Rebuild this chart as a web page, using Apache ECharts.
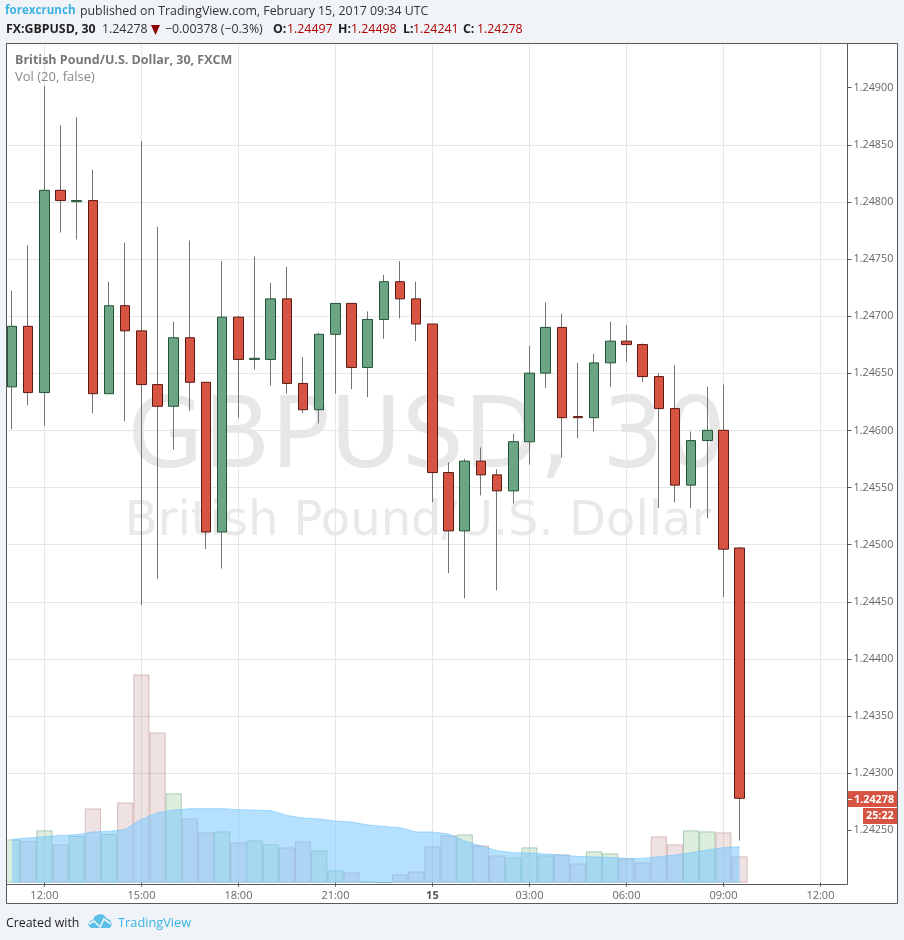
<!DOCTYPE html>
<html><head><meta charset="utf-8">
<style>html,body{margin:0;padding:0;background:#f0f3f7}#c{width:904px;height:940px}</style>
<script src="https://cdn.jsdelivr.net/npm/echarts@6/dist/echarts.min.js"></script>
</head><body><div id="c"></div>
<script>
const categories = ["11:00","11:30","12:00","12:30","13:00","13:30","14:00","14:30","15:00","15:30","16:00","16:30","17:00","17:30","18:00","18:30","19:00","19:30","20:00","20:30","21:00","21:30","22:00","22:30","23:00","23:30","15","00:30","01:00","01:30","02:00","02:30","03:00","03:30","04:00","04:30","05:00","05:30","06:00","06:30","07:00","07:30","08:00","08:30","09:00","09:30","10:00","10:30","11:00","11:30","12:00","12:30"];
const opens  = [1.24638,1.24691,1.24633,1.24810,1.24800,1.24801,1.24632,1.24709,1.24687,1.24640,1.24621,1.24681,1.24642,1.24511,1.24699,1.24662,1.24662,1.24715,1.24641,1.24618,1.24684,1.24711,1.24655,1.24697,1.24730,1.24715,1.24693,1.24563,1.24512,1.24573,1.24561,1.24547,1.24590,1.24650,1.24690,1.24612,1.24611,1.24659,1.24678,1.24675,1.24647,1.24619,1.24552,1.24591,1.24600,1.24497];
const closes = [1.24691,1.24633,1.24810,1.24801,1.24801,1.24632,1.24709,1.24687,1.24640,1.24621,1.24681,1.24642,1.24511,1.24699,1.24662,1.24663,1.24715,1.24641,1.24618,1.24684,1.24711,1.24655,1.24697,1.24730,1.24715,1.24693,1.24563,1.24512,1.24573,1.24561,1.24547,1.24590,1.24650,1.24690,1.24611,1.24611,1.24659,1.24678,1.24675,1.24647,1.24619,1.24552,1.24591,1.24600,1.24496,1.24278];
const lows   = [1.24601,1.24622,1.24604,1.24773,1.24767,1.24615,1.24632,1.24608,1.24447,1.24470,1.24583,1.24617,1.24496,1.24479,1.24611,1.24653,1.24639,1.24632,1.24615,1.24606,1.24632,1.24636,1.24629,1.24680,1.24698,1.24678,1.24537,1.24475,1.24453,1.24543,1.24460,1.24536,1.24570,1.24637,1.24576,1.24593,1.24599,1.24638,1.24660,1.24642,1.24532,1.24537,1.24532,1.24523,1.24454,1.24241];
const highs  = [1.24722,1.24762,1.24901,1.24867,1.24874,1.24828,1.24730,1.24764,1.24853,1.24778,1.24695,1.24766,1.24642,1.24748,1.24700,1.24752,1.24729,1.24743,1.24664,1.24685,1.24711,1.24711,1.24704,1.24736,1.24748,1.24730,1.24693,1.24572,1.24575,1.24585,1.24566,1.24597,1.24674,1.24712,1.24702,1.24659,1.24667,1.24695,1.24692,1.24676,1.24650,1.24657,1.24599,1.24638,1.24640,1.24498];
const volumes = [433,417,523,383,467,743,487,803,2083,1503,893,643,503,513,403,423,383,353,413,323,123,103,13,5,83,113,363,473,483,373,273,253,353,273,283,193,313,293,243,203,463,383,523,513,503,263];
const volumeMA = [433,447,460,473,480,507,513,533,633,700,727,740,740,740,730,727,720,673,647,637,617,607,577,563,550,507,507,487,417,367,320,300,297,287,277,263,258,253,243,243,260,277,300,327,350,360];
const priceTicks = [1.2425,1.243,1.2435,1.244,1.2445,1.245,1.2455,1.246,1.2465,1.247,1.2475,1.248,1.2485,1.249];
const axisMin = 1.2420, axisMax = 1.2495, priceStep = 0.0005;
const priceMin = 1.24203, priceMax = 1.24938;
const volMin = -13, volMax = 8387;
const labelledEvery = 6, labelOffset = 2;

const page = '#f0f3f7', frame = '#5a5a5a', grid = '#e6e6e6', axisText = '#666';
const upFill = '#6ba583', upEdge = '#225437', dnFill = '#d75442', dnEdge = '#5b1a13', wick = '#737375';
const sans = '"Open Sans", sans-serif';

const isMajor = i => (i - labelOffset) % labelledEvery === 0;
const ohlc = opens.map((o, i) => [o, closes[i], lows[i], highs[i]]);
const bodies = opens.map((o, i) => [o, closes[i], Math.min(o, closes[i]), Math.max(o, closes[i])]);
const volBars = volumes.map((v, i) => {
  const up = closes[i] >= opens[i];
  return { value: v, itemStyle: {
    color: up ? 'rgba(90,170,90,0.2)' : 'rgba(170,110,110,0.2)',
    borderColor: up ? 'rgba(50,130,80,0.35)' : 'rgba(150,70,70,0.3)', borderWidth: 1 } };
});

const txt = (x, y, s, fill, font, extra) => ({ type: 'text', z: 50, silent: true, x, y,
  style: Object.assign({ text: s, fill, font, textVerticalAlign: 'middle' }, extra || {}) });
const f12 = '12.35px ' + sans, b12 = 'bold 12.35px ' + sans;
const red = '#b00000';

const graphics = [
  { type: 'rect', z: -3, silent: true, shape: { x: 7, y: 44, width: 890, height: 859 }, style: { fill: '#fff' } },
  { type: 'text', z: -2, silent: true, x: 427, y: 442, style: { text: 'GBPUSD, 30', fill: '#e7e7e7', font: '98px "DejaVu Sans", sans-serif', textAlign: 'center', textVerticalAlign: 'middle' } },
  { type: 'text', z: -2, silent: true, x: 418, y: 523, style: { text: 'British Pound/U.S. Dollar', fill: '#e9e9e9', font: '48px "DejaVu Sans", sans-serif', textAlign: 'center', textVerticalAlign: 'middle' } },
  { type: 'rect', z: 40, silent: true, shape: { x: 0, y: 44, width: 6, height: 860 }, style: { fill: page } },
  { type: 'rect', z: 41, silent: true, shape: { x: 6.5, y: 43.5, width: 841, height: 841 }, style: { fill: 'none', stroke: frame, lineWidth: 1 } },
  { type: 'rect', z: 41, silent: true, shape: { x: 6.5, y: 43.5, width: 891, height: 860 }, style: { fill: 'none', stroke: frame, lineWidth: 1 } },
  txt(5, 11, 'forexcrunch', '#3bb3e4', 'bold 11.6px ' + sans),
  txt(80, 11, 'published on TradingView.com, February 15, 2017 09:34 UTC', '#333', f12),
  txt(6, 29, 'FX:GBPUSD, 30', '#222', b12),
  txt(102, 29, '1.24278', '#333', f12),
  { type: 'polygon', z: 50, silent: true, shape: { points: [[151, 25], [160, 25], [155.5, 35]] }, style: { fill: '#8b0000' } },
  txt(165, 29, '\u22120.00378 (\u22120.3%)', '#333', f12),
  txt(273, 29, 'O:', '#222', b12), txt(287, 29, '1.24497', red, f12),
  txt(338, 29, 'H:', '#222', b12), txt(351, 29, '1.24498', red, f12),
  txt(403, 29, 'L:', '#222', b12), txt(413, 29, '1.24241', red, f12),
  txt(463, 29, 'C:', '#222', b12), txt(477, 29, '1.24278', red, f12),
  txt(15, 60, 'British Pound/U.S. Dollar, 30, FXCM', '#777', 'bold 12.5px ' + sans),
  txt(15, 77, 'Vol (20, false)', '#888', '13px ' + sans),
  { type: 'rect', z: 60, silent: true, shape: { x: 848, y: 791, width: 49, height: 16 }, style: { fill: dnFill } },
  { type: 'rect', z: 60, silent: true, shape: { x: 863, y: 808, width: 34, height: 16 }, style: { fill: dnFill } },
  { type: 'rect', z: 61, silent: true, shape: { x: 848, y: 799, width: 4, height: 1 }, style: { fill: '#fff' } },
  { type: 'text', z: 62, silent: true, x: 854, y: 799.5, style: { text: '1.24278', fill: '#fff', font: 'bold 10.8px ' + sans, textVerticalAlign: 'middle' } },
  { type: 'text', z: 62, silent: true, x: 866, y: 816, style: { text: '25:22', fill: '#fff', font: 'bold 10.8px ' + sans, textVerticalAlign: 'middle' } },
  txt(6, 923, 'Created with', '#222', f12),
  { type: 'polygon', z: 50, silent: true, shape: { points: [[88, 925], [90, 921], [93, 920], [95, 916], [100, 914], [104, 915], [106, 918], [110, 920], [112, 924], [110, 928], [91, 928]] }, style: { fill: '#5bc0e8' } },
  { type: 'polyline', z: 51, silent: true, shape: { points: [[89, 924], [94, 921], [100, 927], [104, 919], [111, 924]] }, style: { fill: 'none', stroke: page, lineWidth: 1.6 } },
  txt(118, 923, 'TradingView', '#3bb3e4', '12.8px ' + sans)
];

const chart = echarts.init(document.getElementById('c'), null, { renderer: 'canvas' });
chart.setOption({
  animation: false,
  backgroundColor: 'transparent',
  graphic: graphics,
  grid: [
    { left: 6.5, width: 841, top: 30.6, height: 856.8 },
    { left: 3.98, width: 840.7, top: 44, height: 840 }
  ],
  xAxis: [
    { gridIndex: 0, type: 'category', data: [''], show: false },
    { gridIndex: 1, type: 'category', data: categories, boundaryGap: true,
      axisLine: { show: false },
      axisTick: { show: true, alignWithLabel: true, length: 4, interval: i => isMajor(i), lineStyle: { color: frame } },
      axisLabel: { show: true, interval: i => isMajor(i), color: axisText, fontFamily: sans, fontSize: 11, margin: 6, hideOverlap: false,
        formatter: v => v === '15' ? '{d|15}' : v, rich: { d: { fontWeight: 'bold', fontFamily: sans, fontSize: 11, color: '#555' } } },
      splitLine: { show: true, alignWithLabel: true, interval: i => isMajor(i), lineStyle: { color: grid, width: 1 } }
    }
  ],
  yAxis: [
    { gridIndex: 0, type: 'value', position: 'right', min: axisMin, max: axisMax, interval: priceStep,
      axisLine: { show: false },
      axisTick: { show: true, length: 4, lineStyle: { color: frame }, customValues: priceTicks },
      axisLabel: { color: axisText, fontFamily: sans, fontSize: 10.8, margin: 6, customValues: priceTicks, formatter: v => v.toFixed(5) },
      splitLine: { show: true, showMinLine: false, showMaxLine: false, lineStyle: { color: grid, width: 1 } } },
    { gridIndex: 1, type: 'value', min: priceMin, max: priceMax, show: false, scale: true, splitLine: { show: false } },
    { gridIndex: 1, type: 'value', min: volMin, max: volMax, show: false, splitLine: { show: false } }
  ],
  series: [
    { name: 'Volume', type: 'bar', xAxisIndex: 1, yAxisIndex: 2, data: volBars, barWidth: '100%', barCategoryGap: 0, z: 2 },
    { name: 'Vol MA', type: 'line', xAxisIndex: 1, yAxisIndex: 2, data: volumeMA, showSymbol: false, z: 3,
      lineStyle: { color: 'rgba(110,195,255,0.6)', width: 1 }, areaStyle: { color: 'rgba(120,200,255,0.55)', opacity: 1 } },
    { name: 'Wicks', type: 'candlestick', xAxisIndex: 1, yAxisIndex: 1, data: ohlc, barWidth: 1, z: 4,
      itemStyle: { color: wick, color0: wick, borderColor: wick, borderColor0: wick, borderWidth: 1 } },
    { name: 'GBPUSD', type: 'candlestick', xAxisIndex: 1, yAxisIndex: 1, data: bodies, barWidth: 10, z: 5,
      itemStyle: { color: upFill, color0: dnFill, borderColor: upEdge, borderColor0: dnEdge, borderWidth: 1 } }
  ]
});
</script></body></html>
